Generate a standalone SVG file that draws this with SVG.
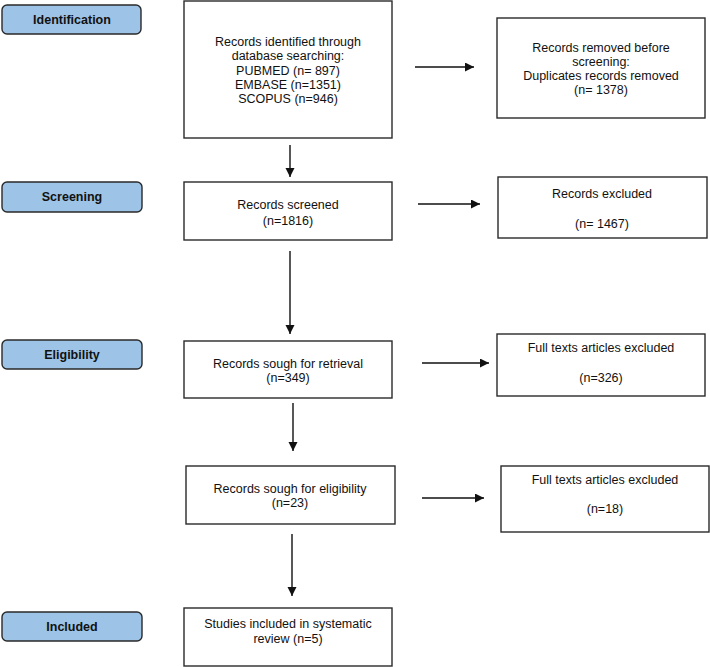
<svg xmlns="http://www.w3.org/2000/svg" width="710" height="667" viewBox="0 0 710 667">
<style>
  .stage rect { fill: #9dc3e6; stroke: #2a2a2a; stroke-width: 1.4; }
  .stage text { font-family: "Liberation Sans", Arial, sans-serif; font-size: 12.5px; font-weight: bold; fill: #111; text-anchor: middle; }
  .box rect { fill: #fff; stroke: #2a2a2a; stroke-width: 1.4; }
  .box text { font-family: "Liberation Sans", Arial, sans-serif; font-size: 12.5px; fill: #111; text-anchor: middle; }
  .conn line { stroke: #111; stroke-width: 1.4; }
</style>
<defs>
  <marker id="ah" markerWidth="10" markerHeight="10" refX="9" refY="4.5" orient="auto" markerUnits="userSpaceOnUse">
    <polygon points="0,0 9,4.5 0,9" fill="#111"/>
  </marker>
</defs>
<rect width="710" height="667" fill="#fff"/>

<g id="stage-identification" class="stage"><rect x="2" y="5" width="139" height="29" rx="5"/><text x="72" y="24">Identification</text></g>
<g id="stage-screening" class="stage"><rect x="2" y="182" width="140" height="30" rx="5"/><text x="72" y="201">Screening</text></g>
<g id="stage-eligibility" class="stage"><rect x="2" y="340" width="140" height="29" rx="5"/><text x="72" y="359">Eligibility</text></g>
<g id="stage-included" class="stage"><rect x="2" y="612" width="140" height="29" rx="5"/><text x="72" y="631">Included</text></g>

<g id="identified" class="box"><rect x="184" y="1" width="208" height="137"/>
  <text x="288" y="46">Records identified through</text>
  <text x="288" y="60">database searching:</text>
  <text x="288" y="74.5">PUBMED (n= 897)</text>
  <text x="288" y="88.5">EMBASE (n=1351)</text>
  <text x="288" y="102.5">SCOPUS (n=946)</text>
</g>
<g id="removed" class="box"><rect x="497" y="18" width="208" height="100"/>
  <text x="601" y="51.5">Records removed before</text>
  <text x="601" y="65.5">screening:</text>
  <text x="601" y="80">Duplicates records removed</text>
  <text x="601" y="94">(n= 1378)</text>
</g>
<g id="screened" class="box"><rect x="184" y="182" width="208" height="58"/>
  <text x="288" y="208.5">Records screened</text>
  <text x="288" y="224.5">(n=1816)</text>
</g>
<g id="excluded1" class="box"><rect x="498" y="177" width="209" height="61"/>
  <text x="602" y="197.5">Records excluded</text>
  <text x="602" y="227.5">(n= 1467)</text>
</g>
<g id="retrieval" class="box"><rect x="184" y="341" width="208" height="57"/>
  <text x="288" y="367.5">Records sough for retrieval</text>
  <text x="288" y="381.5">(n=349)</text>
</g>
<g id="excluded2" class="box"><rect x="497" y="334" width="208" height="62"/>
  <text x="601" y="351.5">Full texts articles excluded</text>
  <text x="601" y="381.5">(n=326)</text>
</g>
<g id="eligibility" class="box"><rect x="186" y="466" width="209" height="58"/>
  <text x="290" y="492.5">Records sough for eligibility</text>
  <text x="290" y="506.5">(n=23)</text>
</g>
<g id="excluded3" class="box"><rect x="501" y="466" width="208" height="66"/>
  <text x="605" y="483.5">Full texts articles excluded</text>
  <text x="605" y="512.5">(n=18)</text>
</g>
<g id="included" class="box"><rect x="184" y="608" width="208" height="58"/>
  <text x="288" y="627.5">Studies included in systematic</text>
  <text x="288" y="642.5">review (n=5)</text>
</g>

<g id="connectors" class="conn">
  <line x1="290" y1="145" x2="290" y2="177" marker-end="url(#ah)"/>
  <line x1="290" y1="251" x2="290" y2="334" marker-end="url(#ah)"/>
  <line x1="293" y1="403" x2="293" y2="451" marker-end="url(#ah)"/>
  <line x1="292" y1="534" x2="292" y2="596" marker-end="url(#ah)"/>
  <line x1="415" y1="67" x2="474" y2="67" marker-end="url(#ah)"/>
  <line x1="418" y1="204" x2="480" y2="204" marker-end="url(#ah)"/>
  <line x1="422" y1="363" x2="489" y2="363" marker-end="url(#ah)"/>
  <line x1="422" y1="498" x2="484" y2="498" marker-end="url(#ah)"/>
</g>
</svg>
